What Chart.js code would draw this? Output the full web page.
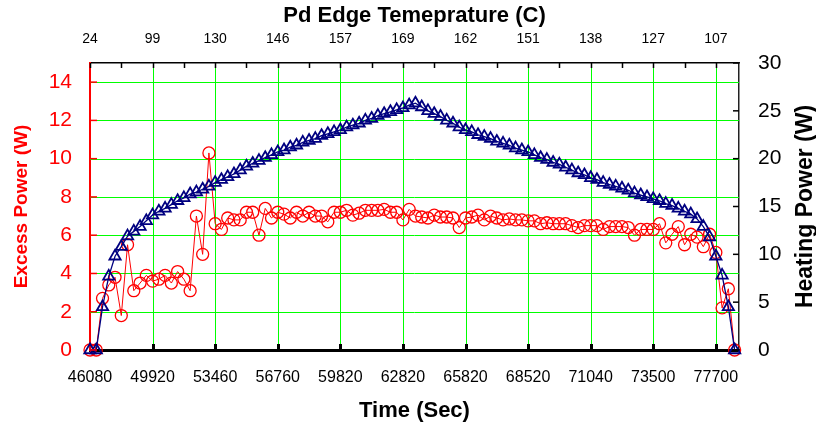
<!DOCTYPE html>
<html>
<head>
<meta charset="utf-8">
<script src="https://cdn.jsdelivr.net/npm/chart.js@4.4.0/dist/chart.umd.min.js"></script>
<style>
  body { margin: 0; background: #fff; }
  #wrap { width: 816px; height: 432px; }
</style>
</head>
<body>
<div id="wrap"><canvas id="myChart" width="816" height="432"></canvas></div>
<script>
// tick labels (one every 10 samples)
const timeLabels = ['46080', '49920', '53460', '56760', '59820', '62820', '65820', '68520', '71040', '73500', '77700'];
const tempLabels = ['24', '99', '130', '146', '157', '169', '162', '151', '138', '127', '107'];

// excess power (W), left axis
const excessPower = [
  0, 0, 2.7, 3.4, 3.8, 1.8, 5.5, 3.1, 3.5, 3.9,
  3.6, 3.7, 3.9, 3.5, 4.1, 3.7, 3.1, 7.0, 5.0, 10.3,
  6.6, 6.3, 6.9, 6.8, 6.8, 7.2, 7.2, 6.0, 7.4, 6.9,
  7.2, 7.1, 6.9, 7.2, 7.0, 7.2, 7.0, 7.0, 6.7, 7.2,
  7.2, 7.3, 7.05, 7.15, 7.3, 7.3, 7.3, 7.35, 7.2, 7.2,
  6.8, 7.35, 7.0, 6.95, 6.9, 7.05, 6.95, 6.95, 6.9, 6.4,
  6.9, 6.95, 7.05, 6.8, 7.0, 6.9, 6.8, 6.85, 6.8, 6.8,
  6.75, 6.75, 6.6, 6.65, 6.6, 6.6, 6.6, 6.5, 6.4, 6.5,
  6.5, 6.5, 6.3, 6.45, 6.45, 6.45, 6.4, 6.0, 6.3, 6.3,
  6.3, 6.6, 5.6, 6.05, 6.45, 5.5, 6.05, 5.9, 5.4, 6.05,
  5.1, 2.2, 3.2, 0
];

// heating power (W), right axis
const heatingPower = [
  0, 0, 4.5, 7.7, 9.8, 10.8, 11.9, 12.4, 12.9, 13.5,
  14.1, 14.5, 14.8, 15.2, 15.6, 15.9, 16.3, 16.5, 16.8, 17.1,
  17.5, 17.8, 18.1, 18.4, 18.8, 19.2, 19.5, 19.8, 20.1, 20.4,
  20.7, 20.9, 21.2, 21.4, 21.7, 21.9, 22.1, 22.4, 22.6, 22.8,
  23.0, 23.3, 23.5, 23.7, 24.0, 24.2, 24.5, 24.7, 24.9, 25.1,
  25.3, 25.6, 25.8, 25.4, 25.0, 24.7, 24.4, 24.0, 23.7, 23.3,
  23.0, 22.8, 22.5, 22.3, 22.1, 21.8, 21.6, 21.4, 21.1, 20.9,
  20.7, 20.4, 20.1, 19.9, 19.6, 19.4, 19.1, 18.8, 18.5, 18.3,
  18.0, 17.8, 17.5, 17.3, 17.1, 16.9, 16.7, 16.4, 16.2, 16.0,
  15.8, 15.6, 15.3, 15.1, 14.8, 14.5, 14.2, 13.7, 12.9, 11.8,
  9.8, 7.8, 4.5, 0
];

const leftTicks = [0, 2, 4, 6, 8, 10, 12, 14];
const rightTicks = [0, 5, 10, 15, 20, 25, 30];
const samplesPerLabel = 10;

const FONT = 'Arial, "Liberation Sans", sans-serif';
const GREEN = '#00ff00';

const labelTicks = scale => {
  scale.ticks = timeLabels.map((_, i) => ({ value: i * samplesPerLabel }));
};

// green grid, drawn crisp on whole pixels
const greenGrid = {
  id: 'greenGrid',
  beforeDatasetsDraw(chart) {
    const { ctx, chartArea: a, scales } = chart;
    ctx.save();
    ctx.strokeStyle = GREEN;
    ctx.lineWidth = 1;
    ctx.beginPath();
    scales.x.ticks.forEach(t => {
      if (t.value === 0) return;
      const p = Math.round(scales.x.getPixelForValue(t.value)) + 0.5;
      ctx.moveTo(p, a.top); ctx.lineTo(p, a.bottom);
    });
    scales.y.ticks.forEach(t => {
      if (t.value === 0) return;
      const p = Math.round(scales.y.getPixelForValue(t.value)) + 0.5;
      ctx.moveTo(a.left, p); ctx.lineTo(a.right, p);
    });
    ctx.stroke();
    ctx.restore();
  }
};

// inward ticks + right title
const axisExtras = {
  id: 'axisExtras',
  afterDraw(chart) {
    const { ctx, chartArea: a, scales } = chart;
    const { x, x2, y, y2 } = scales;
    const seg = (xa, ya, xb, yb) => { ctx.beginPath(); ctx.moveTo(xa, ya); ctx.lineTo(xb, yb); ctx.stroke(); };
    ctx.save();
    ctx.strokeStyle = '#000';
    ctx.lineWidth = 3;
    x.ticks.forEach(t => {
      if (t.value > 0) { const p = Math.round(x.getPixelForValue(t.value)) + 0.5; seg(p, a.bottom, p, a.bottom - 6); }
    });
    ctx.lineWidth = 1.5;
    for (let v = 0; v <= x2.max; v += samplesPerLabel / 2) {
      const p = Math.round(x2.getPixelForValue(v)) + 0.5;
      seg(p, a.top, p, a.top + 5);
    }
    y2.ticks.forEach(t => { const p = y2.getPixelForValue(t.value); seg(a.right, p, a.right - 6, p); });
    ctx.strokeStyle = '#ff0000';
    y.ticks.forEach(t => { const p = y.getPixelForValue(t.value); seg(a.left, p, a.left + 7, p); });

    ctx.translate(806, (a.top + a.bottom) / 2);
    ctx.rotate(-Math.PI / 2);
    ctx.font = 'bold 23px ' + FONT;
    ctx.fillStyle = '#000';
    ctx.textAlign = 'center';
    ctx.textBaseline = 'middle';
    ctx.fillText('Heating Power (W)', 0, 0);
    ctx.restore();
  }
};

const ctx = document.getElementById('myChart').getContext('2d');
const myChart = new Chart(ctx, {
  type: 'line',
  data: {
    datasets: [
      {
        label: 'Heating Power',
        data: heatingPower.map((v, i) => ({ x: i, y: v })),
        yAxisID: 'y2',
        borderColor: '#000080',
        borderWidth: 1.3,
        pointStyle: 'triangle',
        pointRadius: 6.5,
        pointBorderWidth: 1.8,
        pointBorderColor: '#000080',
        pointBackgroundColor: 'rgba(0,0,0,0)',
        fill: false,
        tension: 0,
        clip: false
      },
      {
        label: 'Excess Power',
        data: excessPower.map((v, i) => ({ x: i, y: v })),
        yAxisID: 'y',
        borderColor: '#ff0000',
        borderWidth: 1,
        pointStyle: 'circle',
        pointRadius: 6,
        pointBorderWidth: 1.3,
        pointBorderColor: '#ff0000',
        pointBackgroundColor: 'rgba(0,0,0,0)',
        fill: false,
        tension: 0,
        clip: false
      }
    ]
  },
  options: {
    responsive: false,
    animation: false,
    layout: { padding: 0 },
    plugins: { legend: { display: false }, tooltip: { enabled: false } },
    scales: {
      x: {
        type: 'linear',
        position: 'bottom',
        min: 0,
        max: 103.7,
        afterBuildTicks: labelTicks,
        afterFit: s => { s.height = 82; },
        grid: { display: false, drawTicks: false },
        border: { color: '#000', width: 3 },
        ticks: {
          autoSkip: false, maxRotation: 0, padding: 18, color: '#000',
          font: { family: FONT, size: 16 },
          callback: (v, i) => timeLabels[i]
        },
        title: { display: true, text: 'Time (Sec)', color: '#000', font: { family: FONT, size: 22, weight: 'bold' }, padding: { bottom: 8 } }
      },
      x2: {
        type: 'linear',
        position: 'top',
        min: 0,
        max: 103.7,
        afterBuildTicks: labelTicks,
        afterFit: s => { s.height = 63; },
        grid: { display: false, drawTicks: false },
        border: { color: '#000', width: 1.5 },
        ticks: {
          autoSkip: false, maxRotation: 0, padding: 15, color: '#000',
          font: { family: FONT, size: 14 },
          callback: (v, i) => tempLabels[i]
        },
        title: { display: true, text: 'Pd Edge Temeprature (C)', color: '#000', font: { family: FONT, size: 22, weight: 'bold' }, padding: { top: 3 } }
      },
      y: {
        position: 'left',
        min: 0,
        max: 15,
        afterBuildTicks: s => { s.ticks = leftTicks.map(v => ({ value: v })); },
        afterFit: s => { s.width = 90; },
        grid: { display: false, drawTicks: false },
        border: { color: '#ff0000', width: 2 },
        ticks: { padding: 18, color: '#ff0000', font: { family: FONT, size: 21 } },
        title: { display: true, text: 'Excess Power (W)', color: '#ff0000', font: { family: FONT, size: 19, weight: 'bold' }, padding: { top: 10 } }
      },
      y2: {
        position: 'right',
        min: 0,
        max: 30,
        afterBuildTicks: s => { s.ticks = rightTicks.map(v => ({ value: v })); },
        afterFit: s => { s.width = 77; },
        grid: { display: false, drawTicks: false },
        border: { color: '#222', width: 1.5 },
        ticks: { padding: 19, color: '#000', font: { family: FONT, size: 21 } }
      }
    }
  },
  plugins: [greenGrid, axisExtras]
});
</script>
</body>
</html>
